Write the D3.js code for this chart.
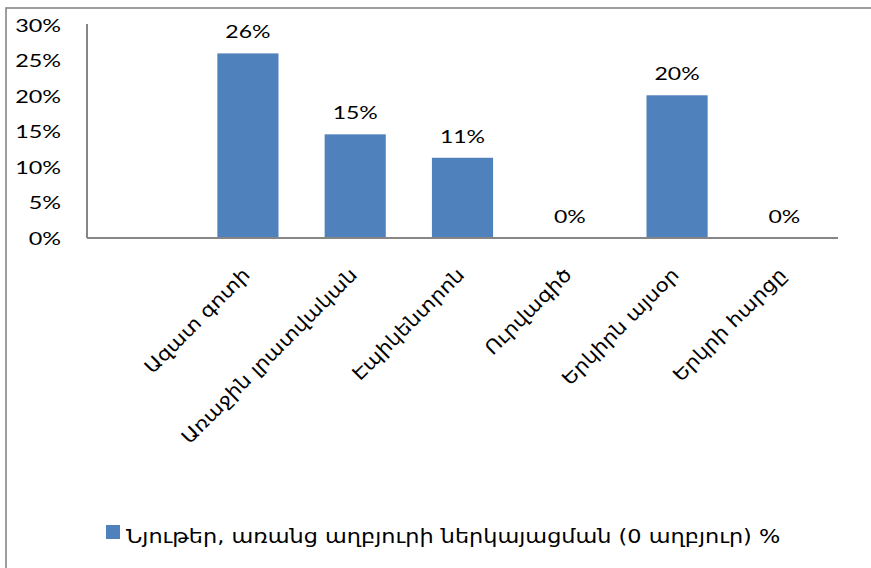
<!DOCTYPE html>
<html>
<head>
<meta charset="utf-8">
<script src="https://cdn.jsdelivr.net/npm/d3@7"></script>
<style>
  html, body { margin: 0; padding: 0; background: #fff; }
  svg { display: block; }
</style>
</head>
<body>
<svg id="chart" width="871" height="568"></svg>
<script>
const categories = ["", "Ազատ գոտի", "Առաջին լրատվական", "Էպիկենտրոն", "Ուրվագիծ", "Երկիրն այսօր", "Երկրի հարցը"];
const values = [null, 26, 14.6, 11.3, 0, 20.1, 0];
const yTicks = [0, 5, 10, 15, 20, 25, 30];
const seriesName = "Նյութեր, առանց աղբյուրի ներկայացման (0 աղբյուր) %";

const barColor = "#4F81BD";
const axisColor = "#868686";
const numFont = "Lato, 'Liberation Sans', sans-serif";
const armFont = "'DejaVu Sans', sans-serif";

const svg = d3.select("#chart");

// outer chart border
svg.append("rect")
  .attr("x", 6).attr("y", 8)
  .attr("width", 900).attr("height", 600)
  .attr("fill", "none")
  .attr("stroke", axisColor)
  .attr("stroke-width", 1.6);

const plot = { left: 87, right: 838, top: 25, bottom: 238 };

const x = d3.scaleBand()
  .domain(categories.map((c, i) => i))
  .range([plot.left, plot.right])
  .paddingInner(0.43)
  .paddingOuter(0.215);

const y = d3.scaleLinear().domain([0, 30]).range([plot.bottom, plot.top]);

// y axis tick labels
const yAxis = d3.axisLeft(y).tickValues(yTicks).tickFormat(d => d + "%").tickSize(0).tickPadding(0);
const yg = svg.append("g").attr("transform", `translate(61,0)`).call(yAxis);
yg.select(".domain").remove();
yg.selectAll("text")
  .attr("font-family", numFont)
  .attr("font-size", 18)
  .attr("fill", "#000")
  .attr("text-anchor", "end")
  .attr("x", 0)
  .attr("dy", "0.36em")
  .attr("transform", "scale(1.3,1)");

// bars
const data = categories.map((c, i) => ({ i, c, v: values[i] })).filter(d => d.v !== null);
svg.append("g").selectAll("rect")
  .data(data)
  .join("rect")
  .attr("x", d => x(d.i))
  .attr("width", x.bandwidth())
  .attr("y", d => y(d.v))
  .attr("height", d => y(0) - y(d.v))
  .attr("fill", barColor);

// axis lines
svg.append("line")
  .attr("x1", plot.left).attr("x2", plot.left)
  .attr("y1", plot.top - 1).attr("y2", plot.bottom)
  .attr("stroke", axisColor).attr("stroke-width", 2);
svg.append("line")
  .attr("x1", plot.left).attr("x2", plot.right)
  .attr("y1", plot.bottom).attr("y2", plot.bottom)
  .attr("stroke", axisColor).attr("stroke-width", 2);

// data labels
const fmt = d3.format(".0f");
svg.append("g").selectAll("text")
  .data(data)
  .join("text")
  .attr("transform", d => `translate(${x(d.i) + x.bandwidth() / 2},${y(d.v) - 15}) scale(1.28,1)`)
  .attr("text-anchor", "middle")
  .attr("font-family", numFont)
  .attr("font-size", 18)
  .attr("fill", "#000")
  .text(d => fmt(d.v) + "%");

// x axis category labels (rotated)
const xAxis = d3.axisBottom(x).tickFormat(i => categories[i]).tickSize(0).tickPadding(0);
const xg = svg.append("g").attr("transform", `translate(0,${plot.bottom})`).call(xAxis);
xg.select(".domain").remove();
xg.selectAll("text")
  .attr("font-family", armFont)
  .attr("font-size", 19)
  .attr("fill", "#000")
  .attr("text-anchor", "end")
  .attr("dy", 0)
  .attr("y", 0)
  .attr("transform", "translate(3,38) rotate(-45) scale(1.12,1)");

// legend
svg.append("rect")
  .attr("x", 106).attr("y", 525)
  .attr("width", 14).attr("height", 14)
  .attr("fill", barColor);
svg.append("text")
  .attr("transform", "translate(126,543) scale(1.12,1)")
  .attr("font-family", armFont)
  .attr("font-size", 20)
  .attr("fill", "#000")
  .text(seriesName);
</script>
</body>
</html>
